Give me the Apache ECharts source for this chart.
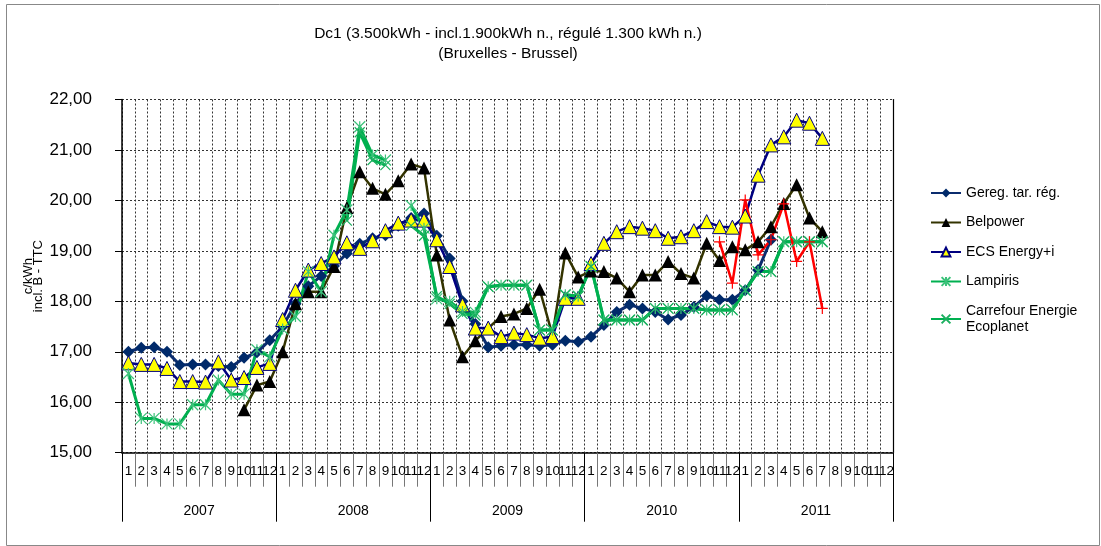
<!DOCTYPE html>
<html>
<head>
<meta charset="utf-8">
<script src="https://cdn.jsdelivr.net/npm/echarts@6/dist/echarts.min.js"></script>
<style>
  html, body { margin: 0; padding: 0; background: #fff; }
  #container { width: 1101px; height: 546px; }
</style>
</head>
<body>
<div id="container"></div>
<script>
// months 1..12 for each year 2007-2011
var years = ['2007', '2008', '2009', '2010', '2011'];
var monthLabels = ['1','2','3','4','5','6','7','8','9','10','11','12'];
var months = [];
years.forEach(function () { monthLabels.forEach(function (m) { months.push(m); }); });

var gereg = [
  17.00, 17.08, 17.09, 17.00, 16.74, 16.75, 16.75, 16.72, 16.70, 16.88, 16.99, 17.23,
  17.50, 17.95, 18.30, 18.50, 18.70, 18.95, 19.14, 19.25, 19.31, 19.50, 19.65, 19.74,
  19.30, 18.85, 18.00, 17.55, 17.09, 17.12, 17.14, 17.14, 17.12, 17.14, 17.22, 17.20,
  17.30, 17.53, 17.79, 17.93, 17.86, 17.79, 17.64, 17.73, 17.89, 18.11, 18.03, 18.03,
  18.22, 18.62, 19.22, null, null, null, null, null, null, null, null, null
];
var belpower = [
  null, null, null, null, null, null, null, null, null, 15.85, 16.34, 16.41,
  17.00, 17.95, 18.19, 18.19, 18.69, 19.86, 20.57, 20.24, 20.12, 20.39, 20.72, 20.64,
  18.92, 17.63, 16.90, 17.22, 17.47, 17.70, 17.75, 17.86, 18.24, 17.33, 18.96, 18.48,
  18.60, 18.59, 18.46, 18.19, 18.52, 18.52, 18.79, 18.55, 18.46, 19.15, 18.81, 19.08,
  19.02, 19.18, 19.48, 19.94, 20.31, 19.65, 19.38, null, null, null, null, null
];
var ecs = [
  16.78, 16.75, 16.75, 16.67, 16.41, 16.41, 16.40, 16.80, 16.44, 16.49, 16.69, 16.77,
  17.64, 18.22, 18.62, 18.75, 18.88, 19.16, 19.05, 19.20, 19.40, 19.55, 19.61, 19.61,
  19.22, 18.69, 17.93, 17.47, 17.47, 17.30, 17.37, 17.34, 17.27, 17.30, 18.06, 18.06,
  18.75, 19.15, 19.38, 19.48, 19.45, 19.40, 19.25, 19.28, 19.40, 19.58, 19.48, 19.47,
  19.69, 20.50, 21.10, 21.26, 21.59, 21.53, 21.23, null, null, null, null, null
];
var lampiris = [
  16.57, 15.68, 15.68, 15.57, 15.57, 15.95, 15.95, 16.44, 16.16, 16.16, 17.04, 16.90,
  17.45, 17.70, 18.59, 18.19, 19.31, 19.81, 21.46, 20.90, 20.80, null, 19.90, 19.45,
  18.05, 18.00, 17.80, 17.78, 18.29, 18.32, 18.32, 18.32, 17.43, 17.43, 18.13, 18.10,
  18.69, 17.63, 17.63, 17.63, 17.63, 17.86, 17.86, 17.86, 17.86, 17.83, 17.83, 17.83,
  18.22, 18.59, 18.59, 19.18, 19.18, 19.18, 19.18, null, null, null, null, null
];
var carrefour = [
  null, null, null, null, null, null, null, null, null, null, null, null,
  null, null, null, null, null, 19.60, 21.35, 20.80, 20.70, null, 19.50, 19.30,
  18.10, 17.95, 17.75, 17.72, 18.29, 18.32, 18.32, 18.32, 17.43, 17.43, 18.13, 18.10,
  18.69, 17.63, 17.63, 17.63, 17.63, 17.86, 17.86, 17.86, 17.86, 17.83, 17.83, 17.83,
  18.22, 18.59, 18.59, 19.18, 19.18, 19.18, 19.18, null, null, null, null, null
];
var redLine = [
  null, null, null, null, null, null, null, null, null, null, null, null,
  null, null, null, null, null, null, null, null, null, null, null, null,
  null, null, null, null, null, null, null, null, null, null, null, null,
  null, null, null, null, null, null, null, null, null, null, 19.18, 18.36,
  20.01, 18.92, 19.22, 19.93, 18.79, 19.18, 17.86, null, null, null, null, null
];

var font = 'Arial, "Liberation Sans", sans-serif';
var starPath = 'path://M0,0L10,10M10,0L0,10M5,0L5,10';
var crossPath = 'path://M0,0L10,10M10,0L0,10';
var plusPath = 'path://M5,0L5,10M0,5L10,5';

var dom = document.getElementById('container');
var myChart = echarts.init(dom);

var option = {
  animation: false,
  backgroundColor: '#FFFFFF',
  textStyle: { fontFamily: font },
  graphic: [{
    type: 'rect', left: 4, top: 2,
    shape: { width: 1093, height: 541 },
    style: { fill: 'none', stroke: '#888', lineWidth: 1 }
  }],
  title: {
    text: 'Dc1 (3.500kWh - incl.1.900kWh n., régulé 1.300 kWh n.)\n(Bruxelles - Brussel)',
    left: 503, top: 19, textAlign: 'center',
    textStyle: { fontFamily: font, fontSize: 15.5, fontWeight: 'normal', color: '#000', lineHeight: 20 }
  },
  legend: {
    orient: 'vertical', left: 925, top: 180,
    itemWidth: 30, itemHeight: 11, itemGap: 13.5,
    data: ['Gereg. tar. rég.', 'Belpower', 'ECS Energy+i', 'Lampiris', 'Carrefour Energie Ecoplanet'],
    formatter: function (n) { return n === 'Carrefour Energie Ecoplanet' ? 'Carrefour Energie\nEcoplanet' : n; },
    textStyle: { fontFamily: font, fontSize: 14, color: '#000', lineHeight: 16 }
  },
  grid: { left: 122, right: 208, top: 99.5, bottom: 93.3 },
  xAxis: [{
    type: 'category', data: months, boundaryGap: true,
    axisLine: { lineStyle: { color: '#000', width: 1.5 } },
    axisTick: { show: true, length: 34, interval: 0, lineStyle: { color: '#777' } },
    axisLabel: { interval: 0, hideOverlap: false, margin: 12, fontSize: 13.5, color: '#000', fontFamily: font },
    splitLine: { show: true, interval: 0, lineStyle: { color: '#333', type: [2, 2], width: 1 } }
  }, {
    type: 'category', data: years, position: 'bottom', boundaryGap: true,
    axisLine: { show: false },
    axisTick: { show: true, length: 69, interval: 0, lineStyle: { color: '#000' } },
    axisLabel: { margin: 51, fontSize: 14, color: '#000', fontFamily: font },
    splitLine: { show: false }
  }],
  yAxis: [{
    type: 'value', min: 15, max: 22, interval: 1,
    name: 'c/kWh\nincl. B - TTC', nameLocation: 'middle', nameRotate: 90, nameGap: 79,
    nameMoveOverlap: false,
    nameTextStyle: { fontFamily: font, fontSize: 13, color: '#000', lineHeight: 10 },
    axisLine: { show: true, lineStyle: { color: '#000', width: 1.5 } },
    axisTick: { show: true, length: 7, lineStyle: { color: '#000' } },
    axisLabel: { margin: 30, fontSize: 17, color: '#000', fontFamily: font,
      formatter: function (v) { return v.toFixed(2).replace('.', ','); } },
    splitLine: { show: true, lineStyle: { color: '#333', type: [2, 2], width: 1 } }
  }, {
    type: 'value', min: 15, max: 22, interval: 1, position: 'right',
    axisLine: { show: true, lineStyle: { color: '#000', width: 1.2 } },
    axisTick: { show: false }, axisLabel: { show: false }, splitLine: { show: false }
  }],
  series: [{
    name: 'Gereg. tar. rég.', type: 'line', data: gereg,
    symbol: 'diamond', symbolSize: 12,
    lineStyle: { color: '#0B2C6E', width: 3 },
    itemStyle: { color: '#002A6A' }
  }, {
    name: 'Belpower', type: 'line', data: belpower,
    symbol: 'triangle', symbolSize: 13,
    lineStyle: { color: '#333300', width: 2.5 },
    itemStyle: { color: '#000000' }
  }, {
    name: 'ECS Energy+i', type: 'line', data: ecs,
    symbol: 'triangle', symbolSize: 14,
    lineStyle: { color: '#000080', width: 2.5 },
    itemStyle: { color: '#FFFF00', borderColor: '#000080', borderWidth: 1 }
  }, {
    name: 'Lampiris', type: 'line', data: lampiris,
    symbol: starPath, symbolSize: 11,
    lineStyle: { color: '#00B050', width: 3 },
    itemStyle: { color: '#3CC27A', borderColor: '#3CC27A', borderWidth: 1.2 }
  }, {
    name: 'Carrefour Energie Ecoplanet', type: 'line', data: carrefour,
    symbol: crossPath, symbolSize: 10,
    lineStyle: { color: '#00B050', width: 3 },
    itemStyle: { color: '#1DB060', borderColor: '#1DB060', borderWidth: 1.2 }
  }, {
    name: 'red', type: 'line', data: redLine,
    symbol: plusPath, symbolSize: 11,
    lineStyle: { color: '#FF0000', width: 2.5 },
    itemStyle: { color: '#FF0000', borderColor: '#FF0000', borderWidth: 1.2 }
  }]
};

myChart.setOption(option);
window.onresize = function () { myChart.resize(); };
</script>
</body>
</html>
